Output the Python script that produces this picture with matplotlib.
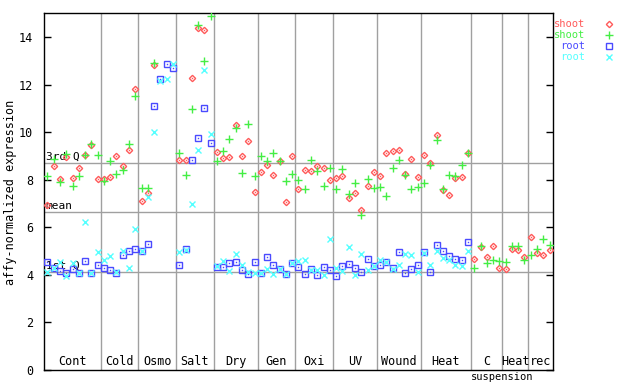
import numpy as np
import matplotlib
matplotlib.use("Agg")
import matplotlib.pyplot as plt

nan = np.nan

# sample groups along the x axis
GROUPS = ["Cont", "Cold", "Osmo", "Salt", "Dry", "Gen", "Oxi", "UV",
          "Wound", "Heat", "C", "Heat", "rec"]
GROUP_SIZES = [9, 6, 6, 6, 7, 6, 6, 7, 7, 8, 5, 4, 4]
SUBLABEL = "suspension"

# summary lines
Q3 = 8.69
MEAN = 6.63
Q1 = 4.10

shoot_1 = [
    6.92, 8.59, 8.03, 8.95, 8.08, 8.48, 9.03, 9.45, 8.03,
    8.03, 8.12, 8.99, 8.58, 9.24, 11.81,
    7.11, 7.43, 12.83, nan, nan, nan,
    8.82, 8.82, 12.27, 14.38, 14.29, nan,
    9.16, 8.90, 8.95, 10.29, 8.99, 9.62, 7.47,
    8.33, 8.61, 8.19, 8.78, 7.05, 8.99,
    7.60, 8.40, 8.36, 8.57, 8.48, 7.98,
    8.06, 8.15, 7.22, 7.43, 6.72, 7.73, 8.32,
    8.15, 9.12, 9.20, 9.24, 8.23, 8.86, 8.11,
    9.03, 8.69, 9.87, 7.56, 7.35, 8.06, 8.11, 9.12,
    4.65, 5.16, 4.74, 5.20, 4.27,
    4.23, 5.07, 5.03, 4.74,
    5.58, 4.90, 4.82, 5.03,
]
shoot_2 = [
    8.15, 8.85, 7.90, 9.09, 7.73, 8.15, 9.03, 9.50, 9.03,
    7.96, 8.79, 8.23, 8.41, 9.51, 11.53,
    7.64, 7.64, 12.92, nan, nan, nan,
    9.12, 8.19, 10.97, 14.50, 13.00, 14.88,
    8.78, 9.20, 9.70, 10.17, 8.27, 10.34, 8.15,
    8.99, 8.78, 9.11, 8.78, 7.94, 8.23,
    7.98, 7.60, 8.82, 8.36, 7.73, 8.48,
    7.60, 8.44, 7.39, 7.85, 6.50, 8.02, 7.64,
    7.68, 7.31, 8.48, 8.82, 8.19, 7.60, 7.68,
    7.85, 8.61, 9.66, 7.60, 8.19, 8.15, 8.61, 9.12,
    4.27, 5.20, 4.48, 4.61, 4.57,
    4.53, 5.20, 5.20, 4.61,
    4.82, 5.07, 5.49, 5.24,
]
root_1 = [
    4.53, 4.27, 4.17, 4.06, 4.24, 4.06, 4.57, 4.06, 4.40,
    4.27, 4.19, 4.09, 4.82, 4.99, 5.07,
    5.00, 5.28, 11.09, 12.23, 12.86, 12.69,
    4.40, 5.10, 8.82, 9.75, 11.01, 9.54,
    4.32, 4.32, 4.48, 4.53, 4.19, 4.02, 4.53,
    4.06, 4.74, 4.40, 4.26, 4.02, 4.48,
    4.32, 4.02, 4.23, 3.98, 4.32, 4.19,
    3.94, 4.36, 4.44, 4.27, 4.10, 4.65, 4.36,
    4.40, 4.53, 4.27, 4.95, 4.06, 4.23, 4.40,
    4.95, 4.10, 5.24, 4.99, 4.78, 4.65, 4.61, 5.37,
] + [nan] * 13
root_2 = [
    4.10, 4.27, 4.53, 3.96, 4.48, 4.06, 6.21, 4.06, 4.95,
    4.61, 4.78, 4.10, 4.99, 4.27, 5.92,
    5.00, 7.29, 10.00, 12.15, 12.23, 12.86,
    4.95, 5.03, 6.97, 9.24, 12.61, 9.92,
    4.35, 4.57, 4.15, 4.86, 4.40, 4.12, 4.08,
    4.06, 4.23, 4.02, 4.22, 4.05, 4.48,
    4.57, 4.61, 4.20, 4.19, 3.98, 5.49,
    4.27, 4.15, 5.17, 3.98, 4.86, 4.19, 4.36,
    4.61, 4.53, 4.23, 4.40, 4.86, 4.82, 4.10,
    4.92, 4.40, 4.99, 4.69, 4.61, 4.40, 4.36, 4.99,
] + [nan] * 13

SERIES = [
    ("shoot", shoot_1, "D", 3.2, "#ff5a5a"),
    ("shoot", shoot_2, "+", 5.5, "#44ee44"),
    ("root", root_1, "s", 4.2, "#4a4aff"),
    ("root", root_2, "x", 4.2, "#55ffff"),
]

FONT = "DejaVu Sans Mono"
GRID = "#a0a0a0"


def main():
    plt.rcParams["font.family"] = FONT
    plt.rcParams["font.size"] = 8

    fig = plt.figure(figsize=(6.4, 3.84), dpi=100)
    ax = fig.add_axes([0.0692, 0.037, 0.7944, 0.9284])

    n = len(shoot_1)
    x = np.arange(1, n + 1)

    # group separators
    bounds = np.cumsum(GROUP_SIZES)[:-1] + 0.5
    for b in bounds:
        ax.axvline(b, color=GRID, lw=1.0, zorder=1)
    for yv in (Q3, MEAN, Q1):
        ax.axhline(yv, color=GRID, lw=1.0, zorder=1)

    ax.text(0.7, Q3 + 0.05, "3rd Q", fontsize=8, va="bottom", ha="left", zorder=2)
    ax.text(0.7, MEAN + 0.05, "mean", fontsize=8, va="bottom", ha="left", zorder=2)
    ax.text(0.7, Q1 + 0.05, "1st Q", fontsize=8, va="bottom", ha="left", zorder=2)

    for name, vals, mk, ms, col in SERIES:
        vals = np.array(vals, dtype=float)
        if mk in "+x":
            ax.plot(x, vals, ls="none", marker=mk, ms=ms, mew=1.0, color=col, zorder=3)
        else:
            ax.plot(x, vals, ls="none", marker=mk, ms=ms, mew=1.0, mfc="none",
                    mec=col, zorder=3)
            ax.plot(x, vals, ls="none", marker="s", ms=1.0, mew=0, color=col, zorder=3)

    # group labels inside the bottom of the plot
    starts = np.concatenate([[0], np.cumsum(GROUP_SIZES)[:-1]])
    for g, s, k in zip(GROUPS, starts, GROUP_SIZES):
        ax.text(s + k / 2 + 0.5, 0.06, g, ha="center", va="bottom", fontsize=8.5)
    c_end = starts[GROUPS.index("C")] + GROUP_SIZES[GROUPS.index("C")] + 0.5
    ax.text(c_end, -0.08, SUBLABEL, ha="center", va="top", fontsize=7.5,
            clip_on=False)

    ax.set_xlim(0.5, n + 0.5)
    ax.set_ylim(0, 15)
    ax.set_xticks([])
    ax.set_yticks(np.arange(0, 15, 2))
    ax.tick_params(axis="y", direction="in", length=5, width=1, right=True,
                   labelsize=8.5, pad=8)
    for sp in ax.spines.values():
        sp.set_linewidth(1.0)

    fig.text(0.017, 0.5, "affy-normalized expression", rotation=90,
             ha="center", va="center", fontsize=8.5)

    # legend outside on the right
    for k, (name, vals, mk, ms, col) in enumerate(SERIES):
        yy = 1 - (23.7 + 11 * k) / 384
        fig.text(585 / 640, yy, name, color=col, ha="right", va="center", fontsize=7.5)
        ax.plot([609 / 640], [yy], transform=fig.transFigure, clip_on=False,
                ls="none", marker=mk, ms=ms, mew=1.0,
                mfc=("none" if mk in "Ds" else col), mec=col, color=col)

    fig.savefig("out.png", dpi=100)
    plt.close(fig)


if __name__ == "__main__":
    main()
